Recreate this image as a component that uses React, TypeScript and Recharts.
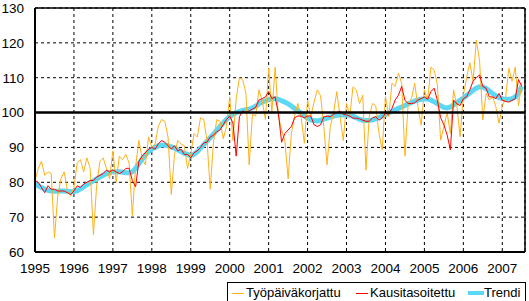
import { LineChart, Line, XAxis, YAxis, CartesianGrid, ReferenceLine } from 'recharts'

// monthly index, 0 = Jan 1995, last = Jul 2007
const yearTicks = [1995, 1996, 1997, 1998, 1999, 2000, 2001, 2002, 2003, 2004, 2005, 2006, 2007]
const yTicks = [60, 70, 80, 90, 100, 110, 120, 130]

const tyopaivakorjattu = [
  80.5, 84, 86, 82, 83, 82.5, 64, 76, 81, 83, 77.5, 76,
  78.5, 85.5, 86.5, 83, 87, 84, 65, 79, 86, 87, 84, 81,
  89, 80, 87.5, 86.5, 88, 85.5, 70.5, 84.5, 92, 87, 85, 93,
  90, 91, 96, 98, 97.5, 93, 76.5, 88, 92, 91, 90.5, 84,
  88, 94, 93, 98.5, 98, 92, 78, 91.5, 98, 97.5, 92.5, 96,
  104.5, 92, 104, 110, 109.5, 105.5, 85, 99.5, 99, 106.5, 103.5, 98,
  112.7, 100, 113, 99, 95, 92, 81, 94, 99, 102.6, 98.8, 91.2,
  103.6, 98.8, 103, 106.5, 104.8, 96, 85, 96, 99.8, 106, 98.8, 92,
  102.6, 99, 107.4, 106.5, 102.6, 105, 83.5, 98.8, 102.6, 102, 94, 89.3,
  104.6, 98.8, 108.4, 107.5, 111.3, 108.4, 87.5, 102.6, 104, 108.4, 101.7, 96.4,
  106.5, 103.6, 113, 112.2, 108, 92.1, 96, 100, 94, 106.5, 102, 93.1,
  105, 110, 114.3, 109, 120.8, 114.9, 97.9, 105.5, 103.6, 104.5, 101.7, 96.9,
  102, 104, 112.7, 109, 113, 102, 108.5,
]

const kausitasoitettu = [
  80.5, 80, 78.5, 77, 79, 78, 78, 77.5, 77.5, 77.5, 77, 76.5,
  77.5, 79, 78.5, 79.5, 80, 80.5, 80.5, 81.5, 82, 82.5, 83.5, 83,
  83.5, 83, 82.5, 83, 84, 84, 80.5, 78.7, 86, 87.5, 88.5, 89.5,
  90, 89.5, 91, 92, 91.5, 90.5, 89.5, 90.5, 89, 89.5, 88, 88,
  87, 88.5, 89, 90, 91.3, 91.5, 93, 93.5, 94.5, 95, 96.5, 98,
  99, 97, 87.5, 98.8, 100.5, 100, 100.5, 101, 101.5, 103.6, 104, 104.5,
  106, 104, 104.5, 99.8, 91.5, 94, 95, 96, 98.5, 99, 99, 98.5,
  99, 99, 96.5, 96, 96.5, 98.8, 99, 98.8, 99.5, 100, 100.5, 99.5,
  99.3, 99, 98.4, 98.4, 98.2, 97.8, 97.5, 97.5, 98.5, 98.8, 97.8, 98.5,
  99.8, 99.5, 101.2, 103.6, 105, 107.5, 103.5, 102.6, 102.6, 102.8, 103.6, 104,
  104.5, 103.8, 106, 107, 103.5, 98.5, 96.5, 93.6, 89.3, 103.6, 102.5, 102,
  104, 104.5, 106.5, 109, 110, 110.8, 107.5, 107, 104.5, 104.5, 104, 105.5,
  103.5, 103.2, 103, 103.5, 104, 109.5, 107.5,
]

const trendi = [
  79.5, 79.0, 78.5, 78.0, 77.7, 77.5, 77.4, 77.4, 77.5, 77.5, 77.4, 77.3,
  77.3, 77.6, 78.1, 78.7, 79.3, 79.9, 80.4, 81.0, 81.5, 82.0, 82.5, 82.8,
  83.0, 83.0, 83.0, 82.9, 82.7, 82.7, 83.0, 84.0, 85.3, 86.6, 87.8, 88.8,
  89.5, 90.0, 90.5, 90.7, 90.7, 90.5, 90.2, 89.8, 89.3, 88.8, 88.3, 88.0,
  87.6, 88.0, 88.8, 89.8, 90.8, 91.8, 92.8, 93.8, 95.0, 96.0, 97.0, 98.0,
  98.8, 99.5, 100.0, 100.3, 100.6, 100.8, 101.0, 101.3, 101.8, 102.5, 103.0, 103.4,
  103.7, 104.0, 104.0, 103.8, 103.4, 103.0, 102.5, 101.9, 101.2, 100.5, 99.8, 99.1,
  98.4, 97.9, 97.7, 97.6, 97.8, 98.1, 98.4, 98.7, 99.0, 99.2, 99.3, 99.3,
  99.3, 99.2, 98.9, 98.5, 98.1, 97.8, 97.7, 97.7, 97.9, 98.2, 98.6, 99.0,
  99.4, 99.9, 100.4, 100.8, 101.2, 101.6, 102.0, 102.5, 102.9, 103.3, 103.6, 103.8,
  103.9, 103.9, 103.6, 103.1, 102.5, 102.0, 101.5, 101.3, 101.6, 102.2, 102.8, 103.5,
  104.2, 104.9, 105.6, 106.4, 107.0, 107.4, 107.3, 106.9, 106.2, 105.5, 104.8, 104.3,
  104.0, 103.8, 103.8, 104.0, 104.5, 105.5, 107.5,
]

const data = trendi.map((t, i) => ({
  i,
  tyo: tyopaivakorjattu[i],
  kausi: kausitasoitettu[i],
  trendi: t,
}))

const xTicks = yearTicks.map((_, n) => n * 12)
const font = 'Arial, "Liberation Sans", sans-serif'
const tickStyle = { fontSize: 13.5, fill: '#000', fontFamily: font }

const ORANGE = '#ffb11a'
const RED = '#ff0000'
const CYAN = '#5cd8f7'

function LegendBox() {
  const txt = { position: 'absolute' as const, top: 2, fontSize: 13, fontFamily: font, color: '#000', lineHeight: '16px' }
  const seg = (left: number, width: number, color: string, h: number) => (
    <div style={{ position: 'absolute', left, top: 10 - h / 2, width, height: h, background: color }} />
  )
  return (
    <div style={{ position: 'absolute', left: 227, top: 282, width: 299, height: 30, border: '1px solid #000', boxSizing: 'border-box', background: '#fff' }}>
      {seg(4, 12, ORANGE, 1)}
      <span style={{ ...txt, left: 18 }}>Työpäiväkorjattu</span>
      {seg(128, 12, RED, 1)}
      <span style={{ ...txt, left: 142 }}>Kausitasoitettu</span>
      {seg(240, 16, CYAN, 4)}
      <span style={{ ...txt, left: 256 }}>Trendi</span>
    </div>
  )
}

export default function App() {
  return (
    <div style={{ position: 'absolute', left: 0, top: 0, width: 529, height: 301, background: '#fff' }}>
      <LineChart width={529} height={301} data={data} margin={{ top: 8, right: 4, left: 0, bottom: 19 }}>
        <CartesianGrid stroke="#000" strokeDasharray="3 3" />
        <XAxis
          dataKey="i"
          type="number"
          domain={[0, 151]}
          ticks={xTicks}
          tickFormatter={(v: number) => String(1995 + v / 12)}
          tick={tickStyle}
          tickLine={false}
          tickSize={0}
          tickMargin={11}
          height={30}
          axisLine={{ stroke: '#000', strokeWidth: 2 }}
          interval={0}
        />
        <YAxis
          type="number"
          domain={[60, 130]}
          ticks={yTicks}
          tick={tickStyle}
          tickLine={false}
          tickSize={0}
          tickMargin={11}
          width={35}
          axisLine={{ stroke: '#000', strokeWidth: 2 }}
          interval={0}
        />
        <ReferenceLine y={130} stroke="#000" strokeWidth={1.5} />
        <ReferenceLine x={151} stroke="#000" strokeWidth={1.5} />
        <Line type="linear" dataKey="trendi" stroke={CYAN} strokeWidth={5} dot={false} isAnimationActive={false} />
        <Line type="linear" dataKey="tyo" stroke={ORANGE} strokeWidth={1} dot={false} isAnimationActive={false} />
        <Line type="linear" dataKey="kausi" stroke={RED} strokeWidth={1} dot={false} isAnimationActive={false} />
        <ReferenceLine y={100} stroke="#000" strokeWidth={2.5} />
      </LineChart>
      <LegendBox />
    </div>
  )
}
